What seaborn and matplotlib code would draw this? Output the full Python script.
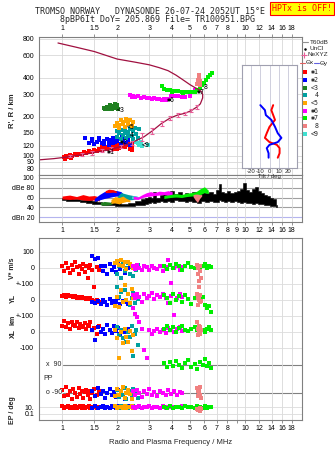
import matplotlib
matplotlib.use('Agg')
import matplotlib.pyplot as plt
from matplotlib.ticker import FixedLocator, NullLocator
import seaborn as sns

W, H = 335, 451

freq_ticks = [1, 1.5, 2, 3, 4, 5, 6, 7, 8, 9, 10, 12, 14, 16, 18]
freq_labels = ['1', '1.5', '2', '3', '4', '5', '6', '7', '8', '9', '10', '12', '14', '16', '18']
freq_labels_no9 = [s if s != '9' else '' for s in freq_labels]
height_ticks = [80, 90, 100, 120, 150, 200, 300, 400, 600, 800]

# NeXYZ profile: topside branch then bottomside branch
ne_f = [0.95, 1.2, 1.5, 2.0, 2.5, 3.0, 3.4, 3.8, 4.2, 4.6, 5.0, 5.3, 5.6, 5.8, 5.87, 5.87,
        5.7, 5.45, 5.1, 4.7, 4.3, 3.9, 3.5, 3.1, 2.8, 2.4, 2.1, 1.8, 1.5, 1.3, 1.08, 0.9, 0.75]
ne_h = [745, 690, 640, 560, 530, 505, 480, 455, 420, 385, 355, 338, 325, 312, 298, 280,
        252, 238, 224, 213, 207, 196, 178, 155, 140, 126, 118, 111, 106, 102, 98, 95, 93]
nebar_f = [1.1, 1.28, 1.45, 1.65, 1.85, 2.1, 2.4, 2.75, 3.1, 3.5, 3.9, 4.3, 4.7, 5.1, 5.45]
nebar_h = [99, 102, 105, 109, 112, 118, 126, 139, 155, 178, 196, 207, 213, 224, 238]
nebar_e = [2, 3, 3, 3, 4, 4, 5, 10, 8, 8, 7, 6, 6, 6, 7]

# echo traces, frequency / virtual height
red_f = [1.02, 1.05, 1.08, 1.1, 1.13, 1.17, 1.2, 1.24, 1.28, 1.32, 1.36, 1.4, 1.45, 1.5, 1.55, 1.6,
         1.65, 1.7, 1.75, 1.65, 1.72, 1.8, 1.85, 1.9, 1.95, 2.0, 2.05, 2.1, 2.15, 2.2, 2.25, 2.3,
         2.35, 2.4, 2.45, 2.42, 2.0, 1.9, 1.04, 1.12]
red_h = [97, 99, 98, 101, 100, 103, 102, 104, 103, 106, 105, 108, 107, 110, 109, 112,
         111, 114, 113, 118, 116, 120, 117, 122, 118, 121, 115, 119, 124, 117, 121, 126,
         113, 120, 128, 110, 112, 113, 95, 96]
blue_f = [1.34, 1.4, 1.45, 1.5, 1.55, 1.6, 1.65, 1.7, 1.75, 1.8, 1.85, 1.9, 1.95, 2.0, 2.05,
          2.1, 2.15, 2.2, 2.25, 2.3, 2.35, 1.8, 2.0, 1.7, 1.45, 1.6, 1.9, 2.12]
blue_h = [138, 125, 135, 123, 128, 132, 126, 130, 136, 128, 133, 138, 127, 131, 135,
          124, 129, 137, 126, 132, 122, 122, 140, 124, 129, 137, 125, 140]
dgreen_f = [1.7, 1.75, 1.8, 1.85, 1.9, 1.95, 2.0, 1.78, 1.88, 2.02, 1.72, 1.95, 1.82]
dgreen_h = [235, 240, 232, 238, 243, 236, 245, 228, 230, 232, 230, 250, 246]
teal_f = [2.0, 2.05, 2.1, 2.15, 2.2, 2.25, 2.3, 2.35, 2.4, 2.45, 2.5, 2.55, 2.6, 2.1, 2.3,
          2.2, 2.45, 2.65, 2.0, 2.38]
teal_h = [140, 150, 158, 145, 162, 137, 152, 160, 143, 155, 165, 148, 138, 135, 142,
          150, 134, 160, 155, 168]
orange_f = [1.95, 2.0, 2.05, 2.1, 2.15, 2.2, 2.25, 2.3, 2.35, 2.4, 2.45, 2.05, 2.25, 2.15]
orange_h = [170, 180, 172, 188, 176, 168, 185, 175, 190, 170, 182, 165, 192, 182]
magenta_f = [2.35, 2.4, 2.45, 2.5, 2.6, 2.7, 2.8, 2.9, 3.0, 3.1, 3.2, 3.3, 3.4, 3.5, 3.6,
             3.7, 3.8, 3.95, 4.1, 4.3, 4.5, 4.7, 5.0, 5.3]
magenta_h = [295, 285, 292, 283, 288, 280, 284, 278, 281, 276, 279, 274, 277, 272, 275,
             271, 274, 290, 292, 288, 286, 284, 290, 322]
green_f = [3.5, 3.6, 3.75, 3.9, 4.1, 4.3, 4.5, 4.7, 4.9, 5.1, 5.3, 5.5, 5.7, 5.85, 6.0,
           6.15, 6.3, 6.45, 6.6, 4.0, 4.6]
green_h = [345, 328, 322, 320, 318, 316, 314, 312, 310, 309, 312, 320, 335, 350, 365,
           385, 405, 420, 440, 312, 306]
salmon_f = [5.5, 5.55, 5.6, 5.62, 5.58, 5.65, 5.7, 5.52, 5.6, 5.68]
salmon_h = [360, 375, 390, 405, 420, 370, 355, 385, 400, 380]
cyan_f = [2.6, 2.65, 2.7, 2.75, 2.55, 2.95]
cyan_h = [125, 122, 127, 120, 128, 122]

trace_names = ['✱1', '✱2', '<3', '4', '<5', '✱6', '✱7', '8', '<9']
trace_colors = ['#ff0000', '#0000ff', '#208020', '#00a0a0', '#ffa500',
                '#ff00ff', '#00ee00', '#f08080', '#40e0d0']
mark_f = [1.76, 2.07, 2.0, 2.35, 2.27, 3.74, 5.46, 5.97, 2.74]
mark_h = [107, 128, 226, 145, 167, 270, 312, 341, 122]

# tilt inset
tiltx_deg = [4, 2, 6, 0, -3, -5, 0, 8, 11, 11, 9]
tiltx_h = [247, 226, 190, 168, 150, 138, 128, 122, 115, 105, 97]
tilty_deg = [-10, -5, -4, 2, 6, 9, 13, 9, 0, -3, -1, -1]
tilty_h = [247, 226, 207, 190, 168, 150, 138, 128, 122, 115, 105, 97]

# amplitude panel
noise_f = [1.0, 1.1, 1.2, 1.3, 1.4, 1.5, 1.6, 1.7, 1.8, 1.9, 2.0, 2.2, 2.4, 2.6, 2.8, 2.9, 3.0,
           3.1, 3.2, 3.35, 3.5, 3.65, 3.8, 4.0, 4.2, 4.4, 4.6, 4.8, 5.0, 5.3, 5.6, 5.9, 6.2,
           6.5, 6.8, 7.1, 7.3, 7.5, 7.8, 8.1, 8.5, 8.9, 9.3, 9.6, 9.9, 10.3, 10.7, 11.1, 11.5,
           12.0, 12.5, 13.0, 13.5, 14.0, 14.5, 15.0]
noise_lo = [54, 53, 52, 50, 48, 47, 46, 45, 44, 44, 43, 42, 43, 44, 45, 47, 48, 50, 49, 51, 52,
            50, 53, 51, 54, 52, 53, 50, 52, 51, 49, 52, 50, 53, 51, 50, 54, 52, 50, 53, 51, 52,
            50, 49, 50, 48, 49, 47, 48, 46, 46, 45, 44, 43, 42, 40]
noise_hi = [58, 58, 57, 55, 54, 53, 50, 49, 48, 50, 49, 47, 48, 52, 56, 60, 62, 58, 72, 60, 66,
            70, 64, 74, 68, 72, 66, 70, 68, 72, 67, 74, 70, 72, 68, 75, 88, 72, 70, 74, 70, 72,
            73, 78, 90, 76, 72, 78, 82, 74, 70, 66, 64, 60, 56, 44]
amp_bands = [
    ('#ff0000', [1.0, 1.1, 1.2, 1.3, 1.4, 1.5, 1.6], [57, 56, 57, 55, 54, 55, 53], [63, 65, 62, 66, 63, 64, 61]),
    ('#0000ff', [1.5, 1.6, 1.7, 1.8, 1.9, 2.0, 2.1, 2.2], [52, 55, 58, 60, 62, 63, 60, 58], [58, 66, 72, 74, 75, 74, 72, 64]),
    ('#ff0000', [1.72, 1.8, 1.9, 1.98], [70, 70, 71, 70], [74, 77, 76, 73]),
    ('#208020', [1.62, 1.7, 1.8, 1.88], [45, 44, 45, 47], [50, 52, 51, 50]),
    ('#00a0a0', [2.0, 2.1, 2.2, 2.3, 2.45, 2.6], [55, 58, 56, 55, 56, 58], [62, 70, 68, 66, 64, 62]),
    ('#ffa500', [1.85, 1.95, 2.05, 2.15, 2.25, 2.35], [48, 49, 47, 50, 52, 51], [56, 62, 60, 63, 58, 55]),
    ('#40e0d0', [2.4, 2.5, 2.6], [58, 57, 59], [63, 64, 62]),
    ('#ff00ff', [2.45, 2.6, 2.75, 2.9, 3.05, 3.2, 3.4, 3.6, 3.8, 4.0], [57, 56, 60, 62, 63, 64, 65, 66, 64, 65], [63, 61, 66, 70, 72, 70, 73, 72, 74, 72]),
    ('#00ee00', [3.6, 3.9, 4.2, 4.5, 4.8, 5.1, 5.4, 5.7, 6.0, 6.3], [58, 60, 61, 60, 62, 63, 64, 66, 70, 68], [64, 66, 68, 66, 69, 70, 72, 78, 82, 75]),
    ('#f08080', [5.2, 5.35, 5.5, 5.65, 5.8], [62, 55, 50, 58, 63], [66, 67, 67, 66, 66]),
]

# lower panel: velocity, YL, XL, polarisation, EP per trace
red_lf = [1.00, 1.03, 1.05, 1.08, 1.10, 1.13, 1.15, 1.18, 1.20, 1.23, 1.25, 1.28, 1.30, 1.33,
          1.35, 1.38, 1.40, 1.43, 1.46, 1.50, 1.55, 1.60]
red_v = [10, -20, 30, 0, -30, 20, -10, 35, 5, -40, 15, -5, 25, -25, 10, -60, 0, 20, -15, -120, 5, -10]
red_yl = [25, 30, 20, 28, 22, 26, 18, 24, 15, 20, 12, 18, 10, 15, 8, 12, 5, 10, 2, -5, 0, -10]
red_xl = [40, 70, 30, 55, 20, 60, 45, 35, 65, 25, 50, 40, 30, 55, 20, 45, 35, 60, 10, 25, -10, 40]
red_pp = [20, -20, 35, -10, 10, -35, 25, 0, -25, 30, -5, 15, -30, 5, 20, -15, 10, -40, 0, 25, -10, 15]
red_ep = [5, -5, 0, 8, -8, 3, -3, 6, -6, 0, 4, -4, 7, -7, 2, -2, 5, -5, 0, 3, -3, 1]
blue_lf = [1.45, 1.52, 1.58, 1.63, 1.68, 1.72, 1.77, 1.82, 1.87, 1.92, 1.97, 2.02, 2.08, 2.15, 2.22, 2.30]
blue_v = [75, 55, 62, 10, -20, 15, -35, 25, -10, 5, -25, 30, -5, 20, -30, 0]
blue_yl = [-15, -20, -5, -25, 0, -10, -30, 5, -20, -8, -15, 10, -25, -5, -12, -28]
blue_xl = [10, -50, 30, 0, 20, -10, 45, 15, -5, 35, 5, 25, -15, 10, 0, 20]
blue_pp = [10, -20, 30, -5, 15, -30, 0, 25, -15, 5, -25, 20, -10, 35, -35, 0]
blue_ep = [-5, 5, -8, 0, 8, -3, 3, -6, 6, 0, -4, 4, -2, 2, -7, 7]
teal_lf = [2.00, 2.05, 2.10, 2.15, 2.20, 2.25, 2.30, 2.35, 2.40, 2.45, 2.50, 2.55, 2.60]
teal_v = [-40, 10, -60, 25, -20, 0, 30, -35, 5, -50, 15, -10, 20]
teal_yl = [80, 20, 50, -10, 60, 0, 35, -30, 10, 45, -20, 25, 5]
teal_xl = [30, -20, 10, -40, 20, -60, 0, -30, 40, -150, -10, 15, -80]
teal_pp = [20, -25, 10, -10, 30, -35, 0, 15, -20, 25, -5, 5, -30]
teal_ep = [3, -3, 6, -6, 0, 4, -4, 2, -2, 5, -5, 1, -1]
orange_lf = [1.95, 2.00, 2.05, 2.10, 2.15, 2.20, 2.25, 2.30, 2.35, 2.40, 2.45]
orange_v = [30, 45, 20, 50, 10, 35, -5, 40, 25, 15, 0]
orange_yl = [-40, 20, -45, 60, -10, 95, 0, 40, -20, 70, 10]
orange_xl = [10, -40, -160, 0, -70, 20, -30, -60, 5, -120, -20]
orange_pp = [-20, 25, -10, 10, 35, -30, 0, 20, -5, -35, 15]
orange_ep = [5, -5, 0, 3, -3, 6, -6, 2, -2, 4, -4]
magenta_lf = [2.45, 2.52, 2.58, 2.65, 2.72, 2.80, 2.90, 3.00, 3.10, 3.20, 3.30, 3.42, 3.55,
              3.68, 3.80, 3.95, 4.10, 4.25, 4.40, 4.55]
magenta_v = [10, -5, 20, 0, -15, 10, 5, -10, 15, 0, -5, 10, -20, 5, 50, -95, 0, 15, -10, 5]
magenta_yl = [30, 10, 40, 20, -10, 35, 15, 25, 45, 5, 30, 20, 40, 10, -20, 25, -95, 15, 35, 20]
magenta_xl = [150, 110, 95, 60, 20, -110, -160, 10, -10, 5, 20, 0, 15, -5, 25, 10, 0, 20, 30, 5]
magenta_pp = [10, -15, 20, 0, -25, 15, -5, 25, -10, 5, -20, 10, 0, -15, 20, -5, 15, -10, 5, 0]
magenta_ep = [3, -3, 0, 5, -5, 2, -2, 4, -4, 0, 3, -3, 6, -6, 1, -1, 2, -2, 0, 4]
green_lf = [3.60, 3.75, 3.90, 4.05, 4.20, 4.35, 4.50, 4.70, 4.90, 5.10, 5.30, 5.50, 5.70,
            5.90, 6.05, 6.20, 6.35, 6.50]
green_v = [10, -5, 20, 0, 25, 10, -10, 15, 30, 5, 0, 20, -5, 10, 25, 0, 15, 5]
green_yl = [30, 10, -20, 40, 0, 25, -15, 30, 5, -25, 15, 35, -10, 20, -30, -50, -40, -75]
green_xl = [20, 40, 10, 30, 0, 25, 35, 15, 5, 20, 30, 10, 25, 15, 0, 20, 30, 10]
green_pp = [10, -15, 20, -5, 25, 0, -20, 15, 30, -10, 5, -25, 20, 0, 35, -5, 15, -20]
green_ep = [0, -5, 5, -3, 3, 0, -6, 6, -2, 2, -4, 4, 0, -5, 5, -3, 3, 0]
salmon_lf = [5.48, 5.52, 5.56, 5.60, 5.63, 5.66, 5.70, 5.74]
salmon_v = [20, 0, -40, -80, -120, -20, 10, -60]
salmon_yl = [40, 10, -30, 20, 0, -15, 30, -5]
salmon_xl = [60, 20, -20, 40, 0, -10, 30, 10]
salmon_pp = [30, 10, -20, 0, 20, -10, 40, -30]
salmon_ep = [-10, -15, -20, -12, -18, -8, -25, -14]

# row centres of the stacked lower panel (100 units = 16 px)
v_row, yl_row, xl_row = 0, -200, -400
ppx_row, ppo_row, ep_row = -606, -781, -869
low_ticks = [100, 0, -100, -200, -300, -400, -500, -869, -912]
low_labels = ['100', '0', '+-100', '0', '+-100', '0', '-100', '10.', '0.1']

sns.set_theme(style='white')
plt.rcParams['font.family'] = ['Liberation Sans', 'DejaVu Sans']
mono = ['DejaVu Sans Mono', 'DejaVu Sans']

fig = plt.figure(figsize=(W / 100, H / 100), dpi=100)
fig.patch.set_facecolor('white')


def panel(l, t, r, b):
    return fig.add_axes([l / W, 1 - b / H, (r - l) / W, (b - t) / H])


def freq_axis(ax, labels, where):
    ax.set_xscale('log')
    ax.set_xlim(0.748, 20.5)
    ax.xaxis.set_major_locator(FixedLocator(freq_ticks))
    ax.xaxis.set_minor_locator(NullLocator())
    ax.set_xticklabels(labels)
    ax.tick_params(axis='x', top=(where == 'top'), labeltop=(where == 'top'),
                   bottom=(where == 'bottom'), labelbottom=(where == 'bottom'))
    ax.tick_params(length=2, width=0.6, color='#808080', pad=1.5, labelsize=5, labelcolor='black')
    ax.grid(axis='x', color='#d8d8d8', lw=0.6)
    for s in ax.spines.values():
        s.set_color('#808080')
        s.set_linewidth(0.8)
    ax.set_xlabel('')
    ax.set_ylabel('')


sq = dict(marker='s', s=6, linewidth=0, legend=False)

# ---------------- height panel
ax_h = panel(39, 37, 302, 175)
sns.lineplot(x=ne_f, y=ne_h, sort=False, estimator=None, color='#a01040', lw=0.9, ax=ax_h)
ax_h.errorbar(nebar_f, nebar_h, yerr=nebar_e, fmt='none', ecolor='#e8609a',
              elinewidth=0.8, capsize=1.5, capthick=0.8)
h_traces = [(red_f, red_h), (blue_f, blue_h), (dgreen_f, dgreen_h), (teal_f, teal_h),
            (orange_f, orange_h), (magenta_f, magenta_h), (green_f, green_h),
            (salmon_f, salmon_h), (cyan_f, cyan_h)]
for (tf, th), col in zip(h_traces, trace_colors):
    sns.scatterplot(x=tf, y=th, color=col, ax=ax_h, **sq)
for name, mf, mh in zip(trace_names, mark_f, mark_h):
    ax_h.text(mf, mh, name, fontsize=4.8, family=mono, ha='left', va='center', color='black')
ax_h.set_yscale('log')
ax_h.set_ylim(71, 829)
ax_h.yaxis.set_major_locator(FixedLocator(height_ticks))
ax_h.yaxis.set_minor_locator(NullLocator())
ax_h.set_yticklabels([str(t) for t in height_ticks])
freq_axis(ax_h, freq_labels_no9, 'top')
ax_h.grid(axis='y', color='#d8d8d8', lw=0.6)
fig.text(12 / W, 1 - 111 / H, "R', R / km", rotation=90, ha='center', va='center',
         fontsize=5.5, weight='bold')

# ---------------- amplitude panel
ax_db = panel(39, 175, 302, 222)
ax_db.fill_between(noise_f, noise_lo, noise_hi, color='black', lw=0.4, step='mid')
for col, bf, blo, bhi in amp_bands:
    ax_db.fill_between(bf, blo, bhi, color=col, lw=0)
ax_db.set_ylim(10, 106)
ax_db.set_yticks([100, 80, 60, 40, 20])
ax_db.set_yticklabels(['100', 'dBe 80', '60', '40', 'dBn 20'])
for lev in [100, 80, 60, 40]:
    ax_db.axhline(lev, color='#a0a0a0', lw=0.8, zorder=0)
ax_db.axhline(20, color='#b4b4ee', lw=0.8, zorder=0)
freq_axis(ax_db, freq_labels, 'bottom')

# ---------------- lower panel
ax_lo = panel(39, 238, 302, 420)
low_traces = [
    (red_lf, red_v, red_yl, red_xl, red_pp, red_ep, trace_colors[0], ppo_row),
    (blue_lf, blue_v, blue_yl, blue_xl, blue_pp, blue_ep, trace_colors[1], ppo_row),
    (teal_lf, teal_v, teal_yl, teal_xl, teal_pp, teal_ep, trace_colors[3], ppo_row),
    (orange_lf, orange_v, orange_yl, orange_xl, orange_pp, orange_ep, trace_colors[4], ppo_row),
    (magenta_lf, magenta_v, magenta_yl, magenta_xl, magenta_pp, magenta_ep, trace_colors[5], ppo_row),
    (green_lf, green_v, green_yl, green_xl, green_pp, green_ep, trace_colors[6], ppx_row),
    (salmon_lf, salmon_v, salmon_yl, salmon_xl, salmon_pp, salmon_ep, trace_colors[7], ppo_row),
]
ax_lo.axhline(ppx_row, xmin=0.09, color='#808080', lw=0.8, zorder=0)
ax_lo.axhline(ppo_row, xmin=0.09, color='#808080', lw=0.8, zorder=0)
for lf, lv, lyl, lxl, lpp, lep, col, pp_row in low_traces:
    for row, vals in [(v_row, lv), (yl_row, lyl), (xl_row, lxl), (pp_row, lpp), (ep_row, lep)]:
        sns.scatterplot(x=lf, y=[row + v for v in vals], color=col, ax=ax_lo, **sq)
ax_lo.set_ylim(-950, 187)
ax_lo.yaxis.set_major_locator(FixedLocator(low_ticks))
ax_lo.set_yticklabels(low_labels)
freq_axis(ax_lo, freq_labels_no9, 'bottom')
ax_lo.grid(axis='y', color='#dcdcdc', lw=0.6)
ytr = ax_lo.get_yaxis_transform()
row_box = dict(facecolor='white', edgecolor='none', pad=0.3)
ax_lo.text(0.025, ppx_row, 'x  90', transform=ytr, fontsize=5, va='center', ha='left',
           zorder=6, bbox=row_box)
ax_lo.text(0.025, ppo_row, 'o -90', transform=ytr, fontsize=5, va='center', ha='left',
           zorder=6, bbox=row_box)
ax_lo.text(0.015, -693, 'PP', transform=ytr, fontsize=5, va='center', ha='left')
for txt, yy in [('V* m/s', 0), ('YL', -194), ('km', -325), ('XL', -412), ('EP / deg', -887)]:
    ax_lo.text(-0.099, yy, txt, transform=ytr, rotation=90, fontsize=5, weight='bold',
               ha='center', va='center')
ax_lo.set_xlabel('Radio and Plasma Frequency / MHz', fontsize=5.5, labelpad=5)

# ---------------- tilt inset
ax_t = panel(242, 65, 297, 168)
ax_t.set_facecolor('white')
sns.lineplot(x=tiltx_deg, y=tiltx_h, sort=False, estimator=None, color='#ff0000', lw=1.4, ax=ax_t)
sns.lineplot(x=tilty_deg, y=tilty_h, sort=False, estimator=None, color='#0000ff', lw=1.4, ax=ax_t)
ax_t.set_yscale('log')
ax_t.set_ylim(80.8, 504)
ax_t.set_yticks([])
ax_t.yaxis.set_minor_locator(NullLocator())
ax_t.set_xlim(-30, 30)
ax_t.set_xticks([-20, -10, 0, 10, 20])
ax_t.set_xticklabels(['-20', '-10', '0', '10', '20'])
ax_t.tick_params(axis='x', length=0, pad=1, labelsize=4.3)
ax_t.grid(axis='x', color='#c8c8d8', lw=0.6)
ax_t.set_ylabel('')
ax_t.set_xlabel('Tilt / deg', fontsize=4.3, labelpad=0)
for s in ax_t.spines.values():
    s.set_color('#a0a0b0')
    s.set_linewidth(0.8)

# ---------------- legend column
ax_l = panel(300, 36, 335, 140)
ax_l.set_xlim(300, 335)
ax_l.set_ylim(140, 36)
ax_l.axis('off')
ax_l.plot([302, 308], [42, 42], color='#909090', lw=0.8)
ax_l.text(310, 42, 'T60dB', fontsize=4.6, va='center')
ax_l.plot([305], [49], 'o', color='black', ms=0.8)
ax_l.text(310, 49, 'UnCl', fontsize=4.6, va='center')
ax_l.plot([304], [55], '+', color='#e8609a', ms=4, mew=0.8)
ax_l.text(308, 55, 'NeXYZ', fontsize=4.6, va='center')
ax_l.plot([300, 305], [63, 63], color='#e06060', lw=0.8)
ax_l.text(306, 63, 'Θx', fontsize=4.6, va='center')
ax_l.plot([314, 319], [63, 63], color='#6060e0', lw=0.8)
ax_l.text(320, 63, 'Θy', fontsize=4.6, va='center')
leg_y = [72, 80, 88, 95, 103, 111, 118, 126, 134]
for name, col, yy in zip(trace_names, trace_colors, leg_y):
    ax_l.plot([305], [yy], 's', color=col, ms=2.3, mew=0)
    ax_l.text(315, yy, name.rjust(2), fontsize=4.8, family=mono, va='center', ha='center')

# ---------------- header
fig.text(150 / W, 1 - 12 / H, 'TROMSO NORWAY   DYNASONDE 26-07-24 2052UT 15°E',
         family=mono, fontsize=6, ha='center', va='center')
fig.text(157 / W, 1 - 20 / H, '8pBP6It DoY= 205.869 File= TR100951.BPG',
         family=mono, fontsize=6, ha='center', va='center')
fig.text(302 / W, 1 - 8.5 / H, 'HPTx is OFF!', family=mono, fontsize=6, color='#ff0000',
         ha='center', va='center',
         bbox=dict(facecolor='#ffff00', edgecolor='#ff0000', lw=0.8, pad=1.2))

fig.savefig('out.png', dpi=100, facecolor='white')
